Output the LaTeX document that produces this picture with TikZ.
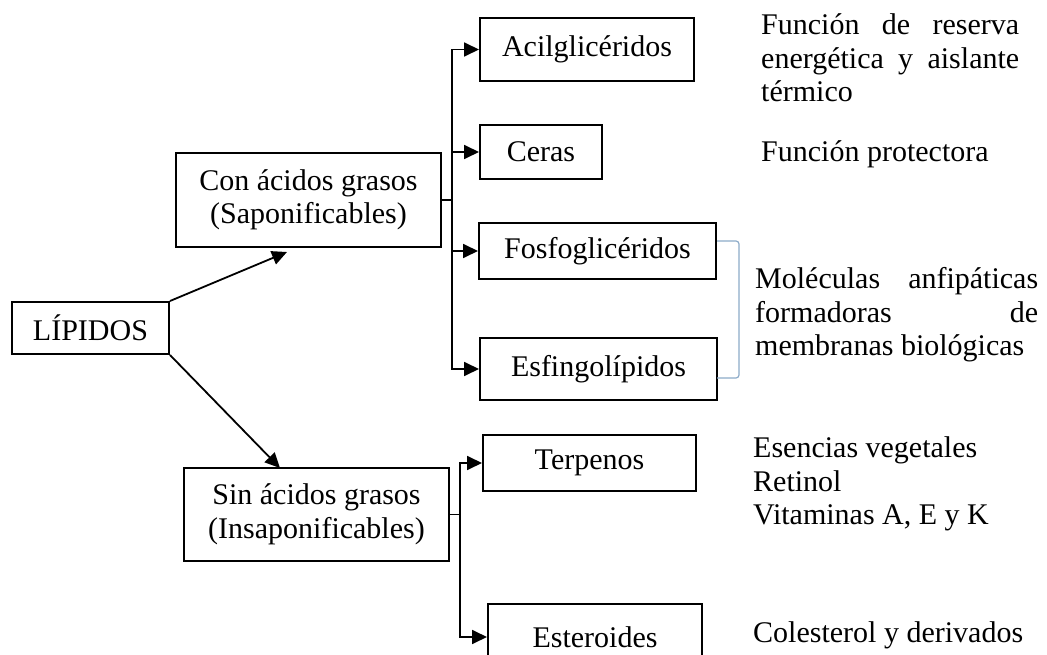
\documentclass[tikz,border=0pt]{standalone}
\usepackage{fontspec}
\setmainfont{Liberation Serif}
\usetikzlibrary{arrows.meta}
\definecolor{bracketcol}{RGB}{140,170,200}
\begin{document}
\begin{tikzpicture}[x=1pt,y=-1pt,
  font=\fontsize{30}{33.5}\selectfont,
  box/.style={draw,line width=2pt,inner sep=0pt,align=center},
  conn/.style={line width=1.8pt},
  arr/.style={conn,-{Triangle[length=15pt,width=14pt]}},
  txt/.style={anchor=base west,inner sep=0pt}]
\useasboundingbox (0,0) rectangle (1047,655);
% boxes
\node[box,minimum width=157pt,minimum height=52pt] (lip) at (90.5,328) {LÍPIDOS};
\node[box,minimum width=265pt,minimum height=94pt] (con) at (308.5,200) {Con ácidos grasos\\(Saponificables)};
\node[box,minimum width=265pt,minimum height=93pt] (sin) at (316.5,514.5) {Sin ácidos grasos\\(Insaponificables)};
\node[box,minimum width=214pt,minimum height=63pt] (acil) at (587,49.5) {Acilglicéridos};
\node[box,minimum width=122pt,minimum height=54pt] (ceras) at (541,152) {Ceras};
\node[box,minimum width=237pt,minimum height=55pt] (fosf) at (597.5,251) {Fosfoglicéridos};
\node[box,minimum width=237pt,minimum height=62pt] (esf) at (598.5,369) {Esfingolípidos};
\node[box,minimum width=213pt,minimum height=56pt] (terp) at (589.5,463) {Terpenos};
\node[box,minimum width=214pt,minimum height=66pt] (este) at (595,637) {Esteroides};
% connectors from LIPIDOS
\coordinate (tipcon) at (287,252);
\coordinate (tipsin) at (280,468);
\draw[arr] (lip.north east) -- (tipcon);
\draw[arr] (lip.south east) -- (tipsin);
% upper branch
\coordinate (tb) at (452,200);
\draw[conn] (con.east) -- (tb);
\draw[arr] (tb) |- (acil.west);
\draw[arr] (tb) |- (ceras.west);
\draw[arr] (tb) |- (fosf.west);
\draw[arr] (tb) |- (esf.west);
% lower branch
\coordinate (sb) at (460,514.5);
\draw[conn] (sin.east) -- (sb);
\draw[arr] (sb) |- (terp.west);
\draw[arr] (sb) |- (este.west);
% bracket
\coordinate (bt) at (717,241);
\coordinate (bb) at (717,378);
\draw[bracketcol,line width=1.2pt,rounded corners=3pt] (bt) -- (739,241) -- (739,378) -- (bb);
% descriptions
\node[txt] (d1a) at (761,35) {\hbox to 258pt{Función\hfill de\hfill reserva}};
\node[txt] (d1b) at (761,68.5) {\hbox to 258pt{energética\hfill y\hfill aislante}};
\node[txt] (d1c) at (761,102) {térmico};
\node[txt] (d2) at (761,162) {Función protectora};
\node[txt] (d3a) at (755,288) {\hbox to 283pt{Moléculas\hfill anfipáticas}};
\node[txt] (d3b) at (755,322) {\hbox to 283pt{formadoras\hfill de}};
\node[txt] (d3c) at (755,355) {membranas biológicas};
\node[txt] (d4a) at (753,457) {Esencias vegetales};
\node[txt] (d4b) at (753,491) {Retinol};
\node[txt] (d4c) at (753,524) {Vitaminas A, E y K};
\node[txt] (d5) at (753,642) {Colesterol y derivados};
\end{tikzpicture}
\end{document}
